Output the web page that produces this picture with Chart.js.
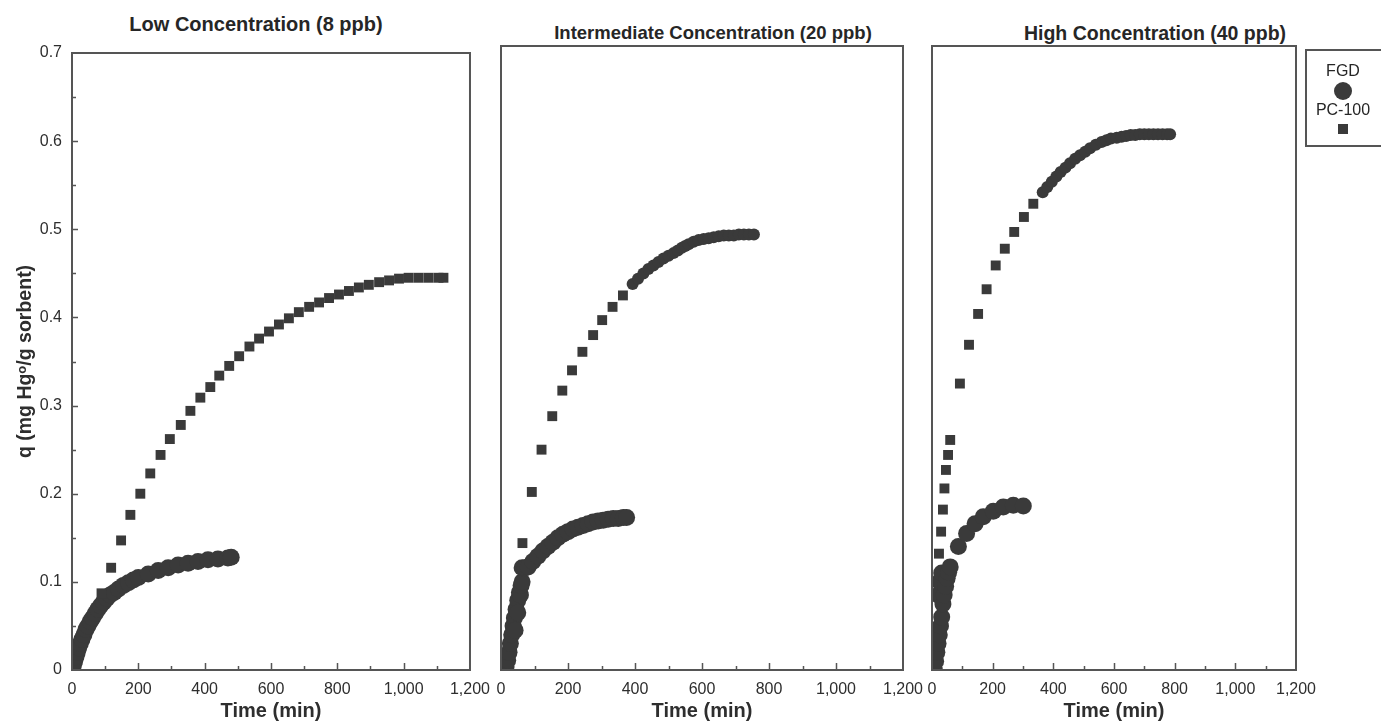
<!DOCTYPE html>
<html>
<head>
<meta charset="utf-8">
<title>Hg uptake vs time</title>
<script src="https://cdn.jsdelivr.net/npm/chart.js@4.4.1/dist/chart.umd.min.js"></script>
<style>
  body { margin: 0; background: #fff; width: 1381px; height: 724px; overflow: hidden; position: relative;
         font-family: "Liberation Sans", Arial, sans-serif; color: #262626; }
  canvas { position: absolute; top: 0; }
  .ttl { position: absolute; font-weight: bold; white-space: nowrap; transform: translate(-50%, -50%); }
  #legend { position: absolute; left: 1305px; top: 49px; width: 100px; height: 98px;
            border: 2px solid #555; box-sizing: border-box; }
  .lg { position: absolute; transform: translate(-50%, -50%); font-size: 16px; white-space: nowrap; }
  .dot { width: 18px; height: 18px; border-radius: 50%; background: #3a3a3a; }
  .sq { width: 10px; height: 10px; background: #3a3a3a; }
</style>
</head>
<body>
<div class="ttl" style="left:256px; top:24px; font-size:20px">Low Concentration (8 ppb)</div>
<div class="ttl" style="left:713px; top:33px; font-size:18.5px">Intermediate Concentration (20 ppb)</div>
<div class="ttl" style="left:1155px; top:33px; font-size:19.5px">High Concentration (40 ppb)</div>

<canvas id="cLow" width="500" height="724" style="left:0"></canvas>
<canvas id="cMid" width="460" height="724" style="left:480px"></canvas>
<canvas id="cHigh" width="469" height="724" style="left:912px"></canvas>

<div id="legend"></div>
<div class="lg" style="left:1343px; top:71px">FGD</div>
<div class="lg dot" style="left:1343px; top:91px"></div>
<div class="lg" style="left:1343px; top:110px">PC-100</div>
<div class="lg sq" style="left:1343px; top:129px"></div>

<script>
// axis ticks
const timeTicks = [0, 200, 400, 600, 800, 1000, 1200];
const qTicks = [0, 0.1, 0.2, 0.3, 0.4, 0.5, 0.6, 0.7];

// Low concentration (8 ppb)
const lowFgdTime = [0, 4, 8, 12, 16, 20, 25, 30, 36, 42, 48, 55, 62, 70, 78, 86, 95, 105, 115, 127,
                    140, 155, 170, 185, 200, 230, 260, 290, 320, 350, 380, 410, 440, 470, 480];
const lowFgdQ = [0, 0.005, 0.010, 0.015, 0.020, 0.025, 0.030, 0.035, 0.040, 0.046, 0.050, 0.055, 0.059,
                 0.064, 0.069, 0.073, 0.077, 0.081, 0.085, 0.088, 0.092, 0.096, 0.099, 0.102, 0.105,
                 0.109, 0.113, 0.116, 0.119, 0.121, 0.123, 0.125, 0.126, 0.127, 0.128];
const lowPcTime = [89, 118, 148, 176, 206, 236, 267, 295, 328, 357, 387, 417, 444, 474, 504, 535, 564,
                   594, 624, 654, 684, 715, 745, 775, 805, 835, 865, 895, 926, 956, 986, 1015, 1045,
                   1075, 1105, 1120];
const lowPcQ = [0.087, 0.116, 0.147, 0.176, 0.200, 0.223, 0.244, 0.262, 0.278, 0.294, 0.309, 0.321,
                0.334, 0.345, 0.356, 0.367, 0.376, 0.384, 0.392, 0.399, 0.406, 0.412, 0.417, 0.422,
                0.426, 0.430, 0.434, 0.437, 0.440, 0.442, 0.444, 0.445, 0.445, 0.445, 0.445, 0.445];

// Intermediate concentration (20 ppb)
const midFgdTime = [10, 15, 20, 24, 28, 32, 36, 40, 42, 45, 50, 50, 55, 58, 60, 63,
                    63, 72, 81, 95, 110, 125, 140, 155, 170, 185, 200, 215, 230, 245, 260, 275,
                    290, 305, 320, 335, 350, 365, 375];
const midFgdQ = [0, 0.004, 0.011, 0.020, 0.030, 0.040, 0.050, 0.059, 0.045, 0.069, 0.079, 0.065, 0.088,
                 0.085, 0.096, 0.100,
                 0.116, 0.116, 0.117, 0.123, 0.129, 0.135, 0.140, 0.145, 0.150, 0.154, 0.157, 0.160,
                 0.162, 0.164, 0.166, 0.168, 0.169, 0.170, 0.171, 0.172, 0.172, 0.173, 0.173];
const midPcTime = [64, 92, 121, 153, 183, 212, 243, 275, 302, 333, 364];
const midPcQ = [0.144, 0.202, 0.250, 0.288, 0.317, 0.340, 0.361, 0.380, 0.397, 0.412, 0.425];
const midPcDenseTime = [393, 409, 425, 440, 455, 470, 485, 500, 515, 528, 540, 550, 560, 575, 590, 605,
                        620, 635, 650, 665, 680, 695, 710, 725, 740, 755];
const midPcDenseQ = [0.438, 0.444, 0.450, 0.455, 0.459, 0.463, 0.467, 0.470, 0.473, 0.476, 0.479, 0.481,
                     0.483, 0.486, 0.488, 0.489, 0.490, 0.491, 0.492, 0.493, 0.493, 0.493, 0.494, 0.494,
                     0.494, 0.494];

// High concentration (40 ppb)
const highFgdTime = [8, 12, 16, 20, 20, 24, 25, 28, 32, 32, 36, 40, 45, 50, 55, 60,
                     87, 114, 142, 169, 202, 235, 268, 301];
const highFgdQ = [0, 0.010, 0.020, 0.030, 0.085, 0.040, 0.100, 0.050, 0.060, 0.110, 0.075, 0.085, 0.095,
                  0.104, 0.111, 0.117, 0.140, 0.155, 0.166, 0.174, 0.180, 0.185, 0.187, 0.186];
const highPcTime = [23, 30, 36, 41, 46, 53, 60, 92, 122, 152, 180, 210, 240, 271, 303, 334];
const highPcQ = [0.132, 0.157, 0.182, 0.206, 0.227, 0.244, 0.261, 0.325, 0.369, 0.404, 0.432, 0.459,
                 0.478, 0.497, 0.514, 0.529];
const highPcDenseTime = [365, 380, 395, 410, 424, 440, 455, 472, 488, 505, 521, 540, 559, 575, 590, 609,
                         625, 640, 655, 670, 685, 700, 715, 730, 745, 760, 775, 785];
const highPcDenseQ = [0.542, 0.548, 0.554, 0.560, 0.565, 0.570, 0.575, 0.580, 0.584, 0.588, 0.592, 0.596,
                      0.599, 0.601, 0.603, 0.604, 0.605, 0.606, 0.607, 0.607, 0.608, 0.608, 0.608, 0.608,
                      0.608, 0.608, 0.608, 0.608];

const MARK = '#3a3a3a';
const TXT = '#2e2e2e';
const FRAME = '#555';

const pts = (xs, ys) => xs.map((x, i) => ({ x: x, y: ys[i] }));

function fgdSet(xs, ys) {
    return { label: 'FGD', data: pts(xs, ys), pointStyle: 'circle', pointRadius: 8.5,
             backgroundColor: MARK, borderWidth: 0, clip: 0 };
}
function pcSet(xs, ys) {
    return { label: 'PC-100', data: pts(xs, ys), pointStyle: 'rect', pointRadius: 7,
             backgroundColor: MARK, borderWidth: 0, clip: 0 };
}
function pcDenseSet(xs, ys) {
    return { label: 'PC-100', data: pts(xs, ys), pointStyle: 'circle', pointRadius: 6,
             backgroundColor: MARK, borderWidth: 0, clip: 0 };
}

// frame round the plot + inward tick marks
const framePlugin = {
    id: 'frame',
    afterDatasetsDraw(chart, args, opts) {
        const { ctx, chartArea: a, scales: { x, y } } = chart;
        ctx.save();
        ctx.strokeStyle = FRAME;
        ctx.lineWidth = 1.5;
        ctx.beginPath();
        for (let i = 0; i < timeTicks.length - 1; i++) {
            const mid = (timeTicks[i] + timeTicks[i + 1]) / 2;
            const pm = Math.round(x.getPixelForValue(mid)) + 0.5;
            ctx.moveTo(pm, a.bottom); ctx.lineTo(pm, a.bottom - 4);
            if (i > 0) {
                const p = Math.round(x.getPixelForValue(timeTicks[i])) + 0.5;
                ctx.moveTo(p, a.bottom); ctx.lineTo(p, a.bottom - 7);
            }
        }
        if (opts.yTicks) {
            for (let i = 0; i < qTicks.length - 1; i++) {
                const mid = (qTicks[i] + qTicks[i + 1]) / 2;
                const pm = Math.round(y.getPixelForValue(mid)) + 0.5;
                ctx.moveTo(a.left, pm); ctx.lineTo(a.left + 4, pm);
                if (i > 0) {
                    const p = Math.round(y.getPixelForValue(qTicks[i])) + 0.5;
                    ctx.moveTo(a.left, p); ctx.lineTo(a.left + 6, p);
                }
            }
        }
        ctx.stroke();
        ctx.lineWidth = 2;
        ctx.strokeRect(a.left, a.top, a.right - a.left, a.bottom - a.top);
        ctx.restore();
    }
};

function makeChart(id, datasets, pad, yMax, showY) {
    return new Chart(document.getElementById(id), {
        type: 'scatter',
        data: { datasets: datasets },
        plugins: [framePlugin],
        options: {
            responsive: false,
            animation: false,
            events: [],
            locale: 'en-US',
            layout: { padding: pad },
            plugins: {
                legend: { display: false },
                tooltip: { enabled: false },
                frame: { yTicks: showY }
            },
            scales: {
                x: {
                    type: 'linear', min: 0, max: 1200,
                    afterBuildTicks: s => { s.ticks = timeTicks.map(v => ({ value: v })); },
                    afterFit: s => { s.height = 54; },
                    grid: { display: false, drawTicks: false },
                    border: { display: false },
                    ticks: { autoSkip: false, maxRotation: 0, padding: 10, color: TXT,
                             font: { family: 'Liberation Sans', size: 16 } },
                    title: { display: true, text: 'Time (min)', color: TXT, padding: { top: 0, bottom: 1 },
                             font: { family: 'Liberation Sans', size: 20, weight: 'bold' } }
                },
                y: {
                    type: 'linear', min: 0, max: yMax, display: showY,
                    afterBuildTicks: s => { s.ticks = qTicks.map(v => ({ value: v })); },
                    afterFit: s => { if (showY) s.width = 72; },
                    grid: { display: false, drawTicks: false },
                    border: { display: false },
                    ticks: { padding: 10, color: TXT, font: { family: 'Liberation Sans', size: 16 } },
                    title: { display: true, text: 'q (mg Hg\u1D52/g sorbent)', color: TXT,
                             padding: { top: 14, bottom: 0 },
                             font: { family: 'Liberation Sans', size: 19.5, weight: 'bold' } }
                }
            }
        }
    });
}

makeChart('cLow', [pcSet(lowPcTime, lowPcQ), fgdSet(lowFgdTime, lowFgdQ)],
          { left: 0, right: 30, top: 53, bottom: 0 }, 0.7, true);
makeChart('cMid', [pcSet(midPcTime, midPcQ), pcDenseSet(midPcDenseTime, midPcDenseQ), fgdSet(midFgdTime, midFgdQ)],
          { left: 21, right: 37, top: 46, bottom: 0 }, 0.708, false);
makeChart('cHigh', [pcSet(highPcTime, highPcQ), pcDenseSet(highPcDenseTime, highPcDenseQ), fgdSet(highFgdTime, highFgdQ)],
          { left: 20, right: 85, top: 46, bottom: 0 }, 0.708, false);
</script>
</body>
</html>
